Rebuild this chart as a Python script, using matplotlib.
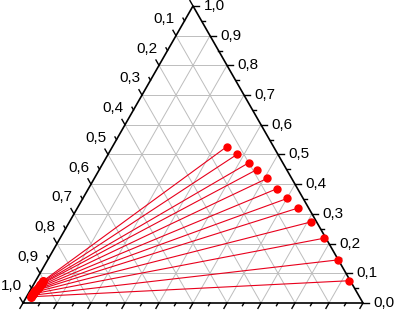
import numpy as np
import matplotlib
matplotlib.use('Agg')
import matplotlib.pyplot as plt

plt.rcParams['font.family'] = ['Liberation Sans', 'DejaVu Sans']

# tie line data: top component (right axis) and bottom component, third = 1 - both
right_top = [0.526, 0.501, 0.472, 0.449, 0.420, 0.385, 0.352, 0.320, 0.273, 0.218, 0.145, 0.075]
right_bottom = [0.336, 0.380, 0.428, 0.463, 0.509, 0.555, 0.601, 0.650, 0.711, 0.776, 0.853, 0.922]
left_top = [0.074, 0.069, 0.064, 0.060, 0.055, 0.050, 0.045, 0.041, 0.036, 0.031, 0.026, 0.021]
left_bottom = [0.022, 0.021, 0.020, 0.019, 0.019, 0.018, 0.017, 0.016, 0.015, 0.015, 0.014, 0.013]

tick_vals = [round(0.05 * i, 2) for i in range(21)]
h = np.sqrt(3) / 2


def tern(top, bottom):
    top = np.asarray(top, dtype=float)
    bottom = np.asarray(bottom, dtype=float)
    return bottom + top / 2, top * h


fig = plt.figure(figsize=(3.97, 3.11), dpi=100)
ax = fig.add_axes([0, 0, 1, 1])
ax.set_xlim(-23 / 340, 374 / 340)
ax.set_ylim(-8 / 343, 303 / 343)
ax.axis('off')

# grid
for i in range(1, 10):
    v = i / 10
    x, y = tern([v, v], [0, 1 - v])
    ax.plot(x, y, color='#bdbdbd', lw=0.7, zorder=1)
    x, y = tern([0, 1 - v], [v, v])
    ax.plot(x, y, color='#bdbdbd', lw=0.7, zorder=1)
    x, y = tern([0, 1 - v], [1 - v, 0])
    ax.plot(x, y, color='#bdbdbd', lw=0.7, zorder=1)

# triangle
x, y = tern([0, 0, 1, 0], [0, 1, 0, 0])
ax.plot(x, y, color='black', lw=1.2, zorder=3, solid_joinstyle='miter')

# ticks and labels
for v in tick_vals:
    major = abs(v * 10 - round(v * 10)) < 1e-6
    L = 0.018 if major else 0.009
    # right axis (top component)
    x0, y0 = tern(v, 1 - v)
    ax.plot([x0, x0 + L], [y0, y0], color='black', lw=1.0, zorder=3)
    if major:
        ax.text(x0 + L + 0.013, y0, ('%.1f' % v).replace('.', ','), ha='left', va='center', fontsize=11)
    # left axis
    x0, y0 = tern(1 - v, 0)
    ax.plot([x0, x0 - 0.5 * L], [y0, y0 + h * L], color='black', lw=1.0, zorder=3)
    if major and v > 0:
        ax.text(x0 - 0.5 * L + 0.005, y0 + h * L + 0.033, ('%.1f' % v).replace('.', ','),
                ha='right', va='center', fontsize=11)
    # bottom axis
    x0, y0 = tern(0, v)
    ax.plot([x0, x0 - 0.5 * L], [y0, y0 - h * L], color='black', lw=1.0, zorder=3)

# tie lines
xr, yr = tern(right_top, right_bottom)
xl, yl = tern(left_top, left_bottom)
for i in range(len(xr)):
    ax.plot([xl[i], xr[i]], [yl[i], yr[i]], color='#e8001c', lw=0.8, zorder=4)
ax.plot(xr, yr, 'o', color='red', ms=5, zorder=5)
ax.plot(xl, yl, 'o', color='red', ms=5.5, zorder=5)

fig.savefig('out.png', dpi=100)
